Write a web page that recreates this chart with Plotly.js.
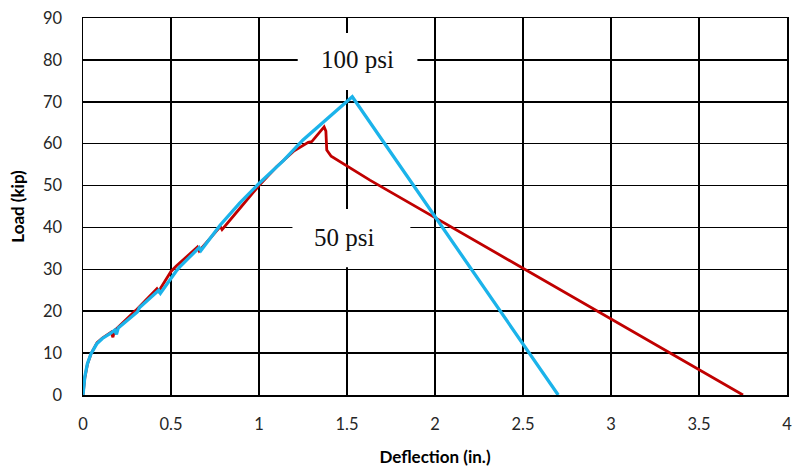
<!DOCTYPE html>
<html>
<head>
<meta charset="utf-8">
<script src="https://cdn.plot.ly/plotly-3.0.1.min.js"></script>
<style>html,body{margin:0;padding:0;background:#fff}#chart{width:792px;height:467px}</style>
</head>
<body>
<div id="chart"></div>
<script>
// 100 psi specimen (blue)
const blueX = [0, 0.01, 0.025, 0.045, 0.078, 0.11, 0.16, 0.18, 0.19, 0.2, 0.31, 0.32, 0.43, 0.44, 0.53, 0.55, 0.66, 0.67, 0.78, 0.89, 1.0, 1.14, 1.25, 1.38, 1.53, 2.7];
const blueY = [0, 4.3, 7.5, 9.8, 12.2, 13.5, 14.8, 15.5, 14.5, 16, 19.9, 20.8, 25, 24.3, 29.6, 30.6, 35.2, 34.5, 40.6, 45.8, 50.5, 56, 60.9, 65.6, 71.2, 0];
// 50 psi specimen (red)
const redX = [0, 0.01, 0.025, 0.045, 0.08, 0.11, 0.16, 0.17, 0.18, 0.3, 0.42, 0.43, 0.5, 0.53, 0.65, 0.66, 0.78, 0.79, 0.9, 1.0, 1.1, 1.2, 1.28, 1.3, 1.37, 1.38, 1.385, 1.41, 1.63, 3.75];
const redY = [0, 4, 7.3, 9.8, 12.5, 13.6, 15, 13.8, 15.4, 20.2, 25.4, 24.8, 29.5, 30.8, 35.3, 34.4, 40.2, 39.5, 45, 50, 54.5, 58.3, 60.3, 60.5, 64, 63, 58.5, 57, 51.3, 0];
const xTicks = [0, 0.5, 1, 1.5, 2, 2.5, 3, 3.5, 4];
const yTicks = [0, 10, 20, 30, 40, 50, 60, 70, 80, 90];
const labels = ["100 psi", "50 psi"];

const traces = [
  {x: redX, y: redY, type: 'scatter', mode: 'lines', line: {color: '#C00000', width: 2.8}, hoverinfo: 'skip'},
  {x: blueX, y: blueY, type: 'scatter', mode: 'lines', line: {color: '#1BB3EA', width: 3.3}, hoverinfo: 'skip'}
];

const tickFont = {family: 'Lato, "Open Sans", sans-serif', size: 16.5, color: '#262626'};
const titleFont = {family: 'Lato, "Open Sans", sans-serif', size: 17, color: '#000', weight: 'bold'};

const layout = {
  width: 792, height: 467,
  margin: {l: 83, r: 5, t: 18, b: 72},
  paper_bgcolor: '#fff', plot_bgcolor: '#fff',
  showlegend: false,
  xaxis: {
    range: [0, 4], tickvals: xTicks, ticktext: xTicks.map(String),
    showgrid: true, gridcolor: '#000', gridwidth: 1.5,
    zeroline: false, showline: true, linecolor: '#000', linewidth: 1.5, mirror: true,
    ticks: '', tickfont: tickFont, ticklabelstandoff: 14, ticklabeloverflow: 'allow',
    title: {text: '<b>Deflection (in.)</b>', font: titleFont, standoff: 18}
  },
  yaxis: {
    range: [0, 90], tickvals: yTicks, ticktext: yTicks.map(String),
    showgrid: true, gridcolor: '#000', gridwidth: 1.5,
    zeroline: false, showline: true, linecolor: '#000', linewidth: 1.5, mirror: true,
    ticks: '', tickfont: tickFont, ticklabelstandoff: 16, ticklabeloverflow: 'allow',
    title: {text: '<b>Load (kip)</b>', font: titleFont, standoff: 14}
  },
  shapes: [
    {type: 'rect', xref: 'x', yref: 'y', x0: 1.22, x1: 1.9, y0: 72.8, y1: 86.4, fillcolor: '#fff', line: {width: 0}, layer: 'between'},
    {type: 'rect', xref: 'x', yref: 'y', x0: 1.19, x1: 1.86, y0: 30.5, y1: 44.4, fillcolor: '#fff', line: {width: 0}, layer: 'between'}
  ],
  annotations: [
    {x: 1.557, y: 80, xref: 'x', yref: 'y', text: labels[0], showarrow: false, font: {family: '"Liberation Serif", "DejaVu Serif", serif', size: 25, color: '#111'}},
    {x: 1.483, y: 37.7, xref: 'x', yref: 'y', text: labels[1], showarrow: false, font: {family: '"Liberation Serif", "DejaVu Serif", serif', size: 25, color: '#111'}}
  ]
};

Plotly.newPlot('chart', traces, layout, {staticPlot: true, displayModeBar: false});
</script>
</body>
</html>
